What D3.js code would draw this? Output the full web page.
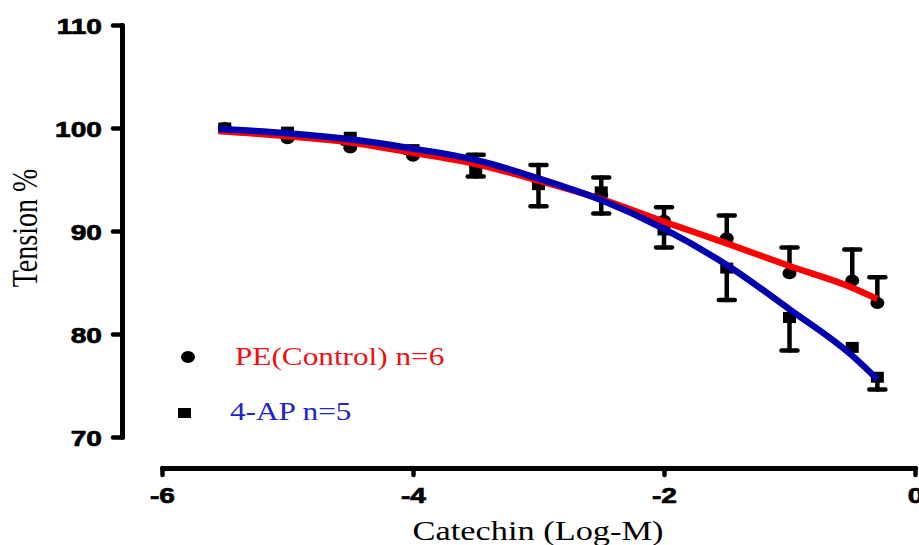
<!DOCTYPE html>
<html>
<head>
<meta charset="utf-8">
<script src="https://cdn.jsdelivr.net/npm/d3@7"></script>
<style>
  body { margin: 0; background: #fff; }
  svg { display: block; }
</style>
</head>
<body>
<svg id="chart"></svg>
<script>
// log concentrations
const doses = [-5.5, -5, -4.5, -4, -3.5, -3, -2.5, -2, -1.5, -1, -0.5, -0.3]

// PE (control), mean and SEM (bars drawn upward)
const peMean = [100.0, 99.0, 98.1, 97.3, 96.4, 94.8, 93.5, 91.0, 89.3, 85.9, 85.2, 83.0]
const peSem  = [0, 0.3, 0.4, 0.4, 1.0, 1.6, 1.7, 1.3, 2.2, 2.5, 3.0, 2.5]

// 4-AP, mean and SEM (bars drawn downward)
const apMean = [100.0, 99.6, 99.1, 97.9, 95.7, 94.5, 93.8, 90.1, 86.4, 81.6, 78.7, 75.8]
const apSem  = [0, 0.2, 0.3, 0.3, 0.4, 2.1, 2.1, 1.7, 3.1, 3.2, 0, 1.2]

// fitted curves
const fitX    = [-5.55, -5, -4.5, -4, -3.5, -3, -2.5, -2, -1.5, -1, -0.5, -0.3]
const peFit   = [99.7, 99.2, 98.6, 97.6, 96.5, 94.9, 93.1, 90.9, 88.8, 86.6, 84.5, 83.4]
const apFit   = [99.9, 99.5, 98.9, 98.0, 96.9, 95.1, 93.0, 90.2, 86.7, 82.4, 77.9, 75.6]

const xTicks = [-6, -4, -2, 0]
const yTicks = [70, 80, 90, 100, 110]

const width = 919, height = 545
const stretch = 1.25  // the picture is wider than it is tall

const svg = d3.select('#chart')
  .attr('width', width)
  .attr('height', height)

const xScale = d3.scaleLinear().domain([-6, 0]).range([162, 915])
const yScale = d3.scaleLinear().domain([70, 110]).range([437, 25])

const xAxisY = 468, yAxisX = 122

// axes
const axisX = d3.axisBottom(xScale).tickValues(xTicks).tickSize(7).tickSizeOuter(0)
  .tickFormat(d => String(d))
const axisY = d3.axisLeft(yScale).tickValues(yTicks).tickSize(9).tickSizeOuter(0)
  .tickFormat(d => String(d))

function styleAxis(g) {
  g.select('.domain')
    .attr('stroke', '#000')
    .attr('stroke-width', 5)
    .attr('stroke-linecap', 'round')
  g.selectAll('.tick line')
    .attr('stroke', '#000')
    .attr('stroke-width', 4.5)
    .attr('stroke-linecap', 'round')
  g.selectAll('.tick text')
    .attr('fill', '#000')
    .attr('stroke', '#000')
    .attr('stroke-width', 0.7)
    .style('font-family', '"Liberation Sans", Arial, sans-serif')
    .style('font-weight', 'bold')
    .style('font-size', '22.5px')
}

const gx = svg.append('g')
  .attr('transform', 'translate(0,' + xAxisY + ')')
  .call(axisX)
  .call(styleAxis)

gx.selectAll('.tick text')
  .attr('y', 35)
  .attr('dy', 0)
  .attr('transform', 'scale(' + stretch + ',1)')
  .attr('x', 0)

const gy = svg.append('g')
  .attr('transform', 'translate(' + yAxisX + ',0)')
  .call(axisY)
  .call(styleAxis)

gy.selectAll('.tick text')
  .attr('x', -20 / stretch)
  .attr('dy', '0.36em')
  .attr('transform', 'scale(' + stretch + ',1)')

// axis titles
const serif = '"Liberation Serif", "Times New Roman", serif'

svg.append('text')
  .attr('transform', 'translate(37,228) scale(' + stretch + ',1) rotate(-90)')
  .attr('text-anchor', 'middle')
  .style('font-family', serif)
  .style('font-size', '28px')
  .text('Tension %')

svg.append('text')
  .attr('transform', 'translate(538,540) scale(' + stretch + ',1)')
  .attr('text-anchor', 'middle')
  .style('font-family', serif)
  .style('font-size', '27.5px')
  .text('Catechin (Log-M)')

// error bars
const capHalf = 8
function errorBars(means, sems, dir) {
  const bars = svg.append('g')
    .selectAll('g')
    .data(doses.map((d, i) => ({x: d, m: means[i], s: sems[i]})).filter(d => d.s > 0))
    .join('g')
    .attr('stroke', '#000')
    .attr('stroke-width', 4.5)
    .attr('stroke-linecap', 'round')

  bars.append('line')
    .attr('x1', d => xScale(d.x))
    .attr('x2', d => xScale(d.x))
    .attr('y1', d => yScale(d.m))
    .attr('y2', d => yScale(d.m + dir * d.s))

  bars.append('line')
    .attr('x1', d => xScale(d.x) - capHalf)
    .attr('x2', d => xScale(d.x) + capHalf)
    .attr('y1', d => yScale(d.m + dir * d.s))
    .attr('y2', d => yScale(d.m + dir * d.s))
}

errorBars(peMean, peSem, 1)
errorBars(apMean, apSem, -1)

// markers
svg.append('g')
  .selectAll('ellipse')
  .data(doses.map((d, i) => [d, peMean[i]]))
  .join('ellipse')
  .attr('cx', d => xScale(d[0]))
  .attr('cy', d => yScale(d[1]))
  .attr('rx', 7)
  .attr('ry', 6)
  .attr('fill', '#000')

svg.append('g')
  .selectAll('rect')
  .data(doses.map((d, i) => [d, apMean[i]]))
  .join('rect')
  .attr('x', d => xScale(d[0]) - 6.5)
  .attr('y', d => yScale(d[1]) - 5.5)
  .attr('width', 13)
  .attr('height', 11)
  .attr('fill', '#000')

// fitted curves
const line = d3.line()
  .x(d => xScale(d[0]))
  .y(d => yScale(d[1]))
  .curve(d3.curveMonotoneX)

svg.append('path')
  .datum(fitX.map((x, i) => [x, peFit[i]]))
  .attr('d', line)
  .attr('fill', 'none')
  .attr('stroke', '#ff0000')
  .attr('stroke-width', 6.5)

svg.append('path')
  .datum(fitX.map((x, i) => [x, apFit[i]]))
  .attr('d', line)
  .attr('fill', 'none')
  .attr('stroke', '#0000b0')
  .attr('stroke-width', 6.5)

// legend
const legend = svg.append('g')

legend.append('ellipse')
  .attr('cx', 188).attr('cy', 357)
  .attr('rx', 7).attr('ry', 6)
  .attr('fill', '#000')

legend.append('text')
  .attr('transform', 'translate(235,365) scale(' + stretch + ',1)')
  .attr('fill', '#ee1111')
  .style('font-family', serif)
  .style('font-size', '25px')
  .text('PE(Control) n=6')

legend.append('rect')
  .attr('x', 178).attr('y', 408)
  .attr('width', 13).attr('height', 10)
  .attr('fill', '#000')

legend.append('text')
  .attr('transform', 'translate(230,420) scale(' + stretch + ',1)')
  .attr('fill', '#2323cc')
  .style('font-family', serif)
  .style('font-size', '25px')
  .text('4-AP n=5')
</script>
</body>
</html>
